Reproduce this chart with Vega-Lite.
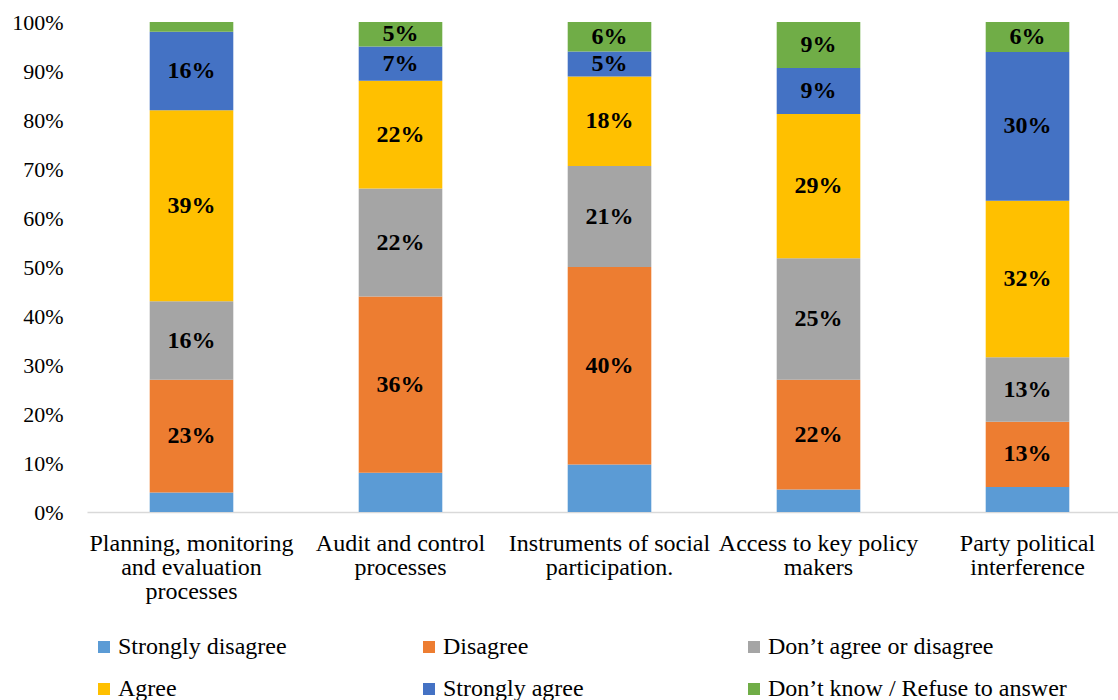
{
  "$schema": "https://vega.github.io/schema/vega-lite/v6.json",
  "width": 1045,
  "height": 490,
  "autosize": {"type": "none"},
  "padding": {"left": 87, "top": 22, "right": 0, "bottom": 188},
  "background": "white",
  "config": {
    "view": {"stroke": null},
    "font": "Liberation Serif",
    "axis": {"labelFont": "Liberation Serif", "labelFontSize": 22, "labelColor": "#000000"},
    "legend": {"labelFont": "Liberation Serif", "labelFontSize": 24, "labelColor": "#000000"}
  },
  "data": {
    "values": [
      {"cat": "Planning, monitoring and evaluation processes", "resp": "Strongly disagree", "rank": 1, "value": 0.04},
      {"cat": "Planning, monitoring and evaluation processes", "resp": "Disagree", "rank": 2, "value": 0.23},
      {"cat": "Planning, monitoring and evaluation processes", "resp": "Don’t agree or disagree", "rank": 3, "value": 0.16},
      {"cat": "Planning, monitoring and evaluation processes", "resp": "Agree", "rank": 4, "value": 0.39},
      {"cat": "Planning, monitoring and evaluation processes", "resp": "Strongly agree", "rank": 5, "value": 0.16},
      {"cat": "Planning, monitoring and evaluation processes", "resp": "Don’t know / Refuse to answer", "rank": 6, "value": 0.02},
      {"cat": "Audit and control processes", "resp": "Strongly disagree", "rank": 1, "value": 0.08},
      {"cat": "Audit and control processes", "resp": "Disagree", "rank": 2, "value": 0.36},
      {"cat": "Audit and control processes", "resp": "Don’t agree or disagree", "rank": 3, "value": 0.22},
      {"cat": "Audit and control processes", "resp": "Agree", "rank": 4, "value": 0.22},
      {"cat": "Audit and control processes", "resp": "Strongly agree", "rank": 5, "value": 0.07},
      {"cat": "Audit and control processes", "resp": "Don’t know / Refuse to answer", "rank": 6, "value": 0.05},
      {"cat": "Instruments of social participation.", "resp": "Strongly disagree", "rank": 1, "value": 0.097},
      {"cat": "Instruments of social participation.", "resp": "Disagree", "rank": 2, "value": 0.403},
      {"cat": "Instruments of social participation.", "resp": "Don’t agree or disagree", "rank": 3, "value": 0.206},
      {"cat": "Instruments of social participation.", "resp": "Agree", "rank": 4, "value": 0.183},
      {"cat": "Instruments of social participation.", "resp": "Strongly agree", "rank": 5, "value": 0.051},
      {"cat": "Instruments of social participation.", "resp": "Don’t know / Refuse to answer", "rank": 6, "value": 0.06},
      {"cat": "Access to key policy makers", "resp": "Strongly disagree", "rank": 1, "value": 0.046},
      {"cat": "Access to key policy makers", "resp": "Disagree", "rank": 2, "value": 0.224},
      {"cat": "Access to key policy makers", "resp": "Don’t agree or disagree", "rank": 3, "value": 0.248},
      {"cat": "Access to key policy makers", "resp": "Agree", "rank": 4, "value": 0.294},
      {"cat": "Access to key policy makers", "resp": "Strongly agree", "rank": 5, "value": 0.094},
      {"cat": "Access to key policy makers", "resp": "Don’t know / Refuse to answer", "rank": 6, "value": 0.094},
      {"cat": "Party political interference", "resp": "Strongly disagree", "rank": 1, "value": 0.051},
      {"cat": "Party political interference", "resp": "Disagree", "rank": 2, "value": 0.133},
      {"cat": "Party political interference", "resp": "Don’t agree or disagree", "rank": 3, "value": 0.132},
      {"cat": "Party political interference", "resp": "Agree", "rank": 4, "value": 0.319},
      {"cat": "Party political interference", "resp": "Strongly agree", "rank": 5, "value": 0.304},
      {"cat": "Party political interference", "resp": "Don’t know / Refuse to answer", "rank": 6, "value": 0.061}
    ]
  },
  "encoding": {
    "x": {
      "field": "cat", "type": "nominal", "sort": null,
      "scale": {"paddingInner": 0.6, "paddingOuter": 0.3},
      "axis": {
        "title": null, "labelAngle": 0, "ticks": false, "domainColor": "#d9d9d9", "domainWidth": 1.5,
        "labelFont": "Liberation Serif", "labelFontSize": 24, "labelColor": "#000000",
        "labelPadding": 31, "labelLineHeight": 24, "labelBaseline": "middle", "labelLimit": 400,
        "labelExpr": "datum.label == 'Planning, monitoring and evaluation processes' ? ['Planning, monitoring', 'and evaluation', 'processes'] : datum.label == 'Audit and control processes' ? ['Audit and control', 'processes'] : datum.label == 'Instruments of social participation.' ? ['Instruments of social', 'participation.'] : datum.label == 'Access to key policy makers' ? ['Access to key policy', 'makers'] : ['Party political', 'interference']"
      }
    },
    "y": {
      "field": "value", "type": "quantitative", "stack": "zero",
      "scale": {"domain": [0, 1], "nice": false},
      "axis": {"title": null, "format": ".0%", "values": [0, 0.1, 0.2, 0.3, 0.4, 0.5, 0.6, 0.7, 0.8, 0.9, 1], "grid": false, "ticks": false, "domain": false, "labelPadding": 24, "labelFont": "Liberation Serif", "labelFontSize": 22, "labelColor": "#000000"}
    },
    "order": {"field": "rank", "type": "quantitative"}
  },
  "layer": [
    {
      "mark": {"type": "bar"},
      "encoding": {
        "color": {
          "field": "resp", "type": "nominal",
          "sort": ["Strongly disagree", "Disagree", "Don’t agree or disagree", "Agree", "Strongly agree", "Don’t know / Refuse to answer"],
          "scale": {
            "domain": ["Strongly disagree", "Disagree", "Don’t agree or disagree", "Agree", "Strongly agree", "Don’t know / Refuse to answer"],
            "range": ["#5B9BD5", "#ED7D31", "#A5A5A5", "#FFC000", "#4472C4", "#70AD47"]
          },
          "legend": {
            "title": null, "orient": "none", "legendX": 5, "legendY": 613, "direction": "horizontal",
            "columns": 3, "gridAlign": "all", "columnPadding": 0, "rowPadding": 18,
            "symbolType": "square", "symbolSize": 144, "symbolStrokeWidth": 0, "labelOffset": 2,
            "labelFont": "Liberation Serif", "labelFontSize": 24, "labelColor": "#000000",
            "labelLimit": 400
          }
        }
      }
    },
    {
      "mark": {"type": "text", "font": "Liberation Serif", "fontSize": 24, "fontWeight": "bold", "color": "#000000", "baseline": "middle"},
      "encoding": {
        "y": {"field": "value", "type": "quantitative", "stack": "zero", "bandPosition": 0.5},
        "detail": {"field": "resp"},
        "text": {
          "condition": {"test": "datum.resp != 'Strongly disagree' && datum.value >= 0.03", "field": "value", "type": "quantitative", "format": ".0%"},
          "value": ""
        }
      }
    }
  ]
}
